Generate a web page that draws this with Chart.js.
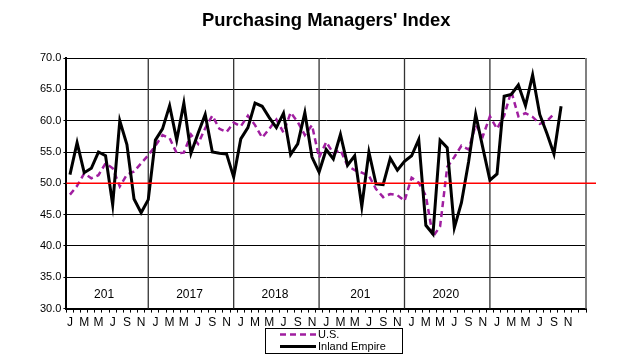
<!DOCTYPE html>
<html>
<head>
<meta charset="utf-8">
<script src="https://cdn.jsdelivr.net/npm/chart.js@4/dist/chart.umd.min.js"></script>
<style>
  html, body { margin: 0; padding: 0; background: #fff; }
  #wrap { width: 623px; height: 356px; position: relative; }
</style>
</head>
<body>
<div id="wrap"><canvas id="c" width="623" height="356"></canvas></div>
<script>
// ---- data ----
const monthLetters = ['J','F','M','A','M','J','J','A','S','O','N','D'];
const startYear = 2016;
const monthCount = 73; // Jan 2016 .. Jan 2022 (axis span)
const yearLabels = ['201', '2017', '2018', '201', '2020', ''];

const usPMI = [
  48.2, 49.6, 51.6, 50.8, 51.3, 53.2, 52.4, 49.5, 51.4, 51.9, 53.2, 54.5,
  56.0, 57.7, 57.2, 54.8, 54.9, 57.8, 56.3, 58.8, 60.8, 58.7, 58.2, 59.7,
  59.1, 60.8, 59.3, 57.3, 58.7, 60.2, 58.1, 61.3, 59.8, 57.7, 59.3, 54.1,
  56.6, 54.8, 55.3, 52.8, 52.1, 51.7, 51.2, 49.1, 47.8, 48.3, 48.1, 47.2,
  50.9, 50.1, 48.0, 41.5, 43.1, 52.6, 54.2, 56.0, 55.4, 59.3, 57.5, 60.7,
  58.7, 60.8, 64.7, 60.7, 61.2, 60.6, 59.5, 59.9, 61.1
];

const inlandEmpire = [
  51.4, 56.5, 51.7, 52.4, 55.0, 54.4, 46.6, 60.0, 56.2, 47.5, 45.3, 47.4,
  56.9, 58.7, 62.4, 56.9, 62.8, 54.8, 58.0, 61.0, 55.0, 54.8, 54.7, 51.0,
  57.1, 58.9, 62.8, 62.3, 60.5, 58.9, 61.2, 54.6, 56.3, 61.3, 54.2, 51.8,
  55.4, 53.9, 57.8, 52.9, 54.4, 46.3, 55.0, 49.9, 49.8, 54.0, 52.1, 53.5,
  54.4, 57.0, 43.3, 41.9, 56.9, 55.7, 42.9, 46.9, 53.4, 61.0, 55.7, 50.5,
  51.5, 63.9, 64.2, 65.7, 62.4, 67.3, 61.0, 58.0, 54.7, 62.3
];

const yTicks = { min: 30, max: 70, step: 5 };
const referenceLevel = 50;

// categories
const categories = [];
for (let i = 0; i < monthCount; i++) {
  const y = startYear + Math.floor(i / 12);
  categories.push(monthLetters[i % 12] + ' ' + y);
}

// ---- plugins ----
const decorations = {
  id: 'decorations',
  beforeDatasetsDraw(chart) {
    const { ctx, chartArea: a, scales: { x, y } } = chart;
    ctx.save();
    // year separator lines (through December of each year)
    ctx.strokeStyle = '#333';
    ctx.lineWidth = 1.3;
    for (let k = 1; k * 12 < monthCount - 1; k++) {
      const px = x.getPixelForValue(k * 12 - 1);
      ctx.beginPath(); ctx.moveTo(px, a.top); ctx.lineTo(px, a.bottom); ctx.stroke();
    }
    // right border
    ctx.strokeStyle = '#808080';
    ctx.lineWidth = 2;
    ctx.beginPath(); ctx.moveTo(a.right, a.top); ctx.lineTo(a.right, a.bottom); ctx.stroke();
    // year labels
    ctx.fillStyle = '#000';
    ctx.font = '12px "Liberation Sans", Arial, sans-serif';
    ctx.textAlign = 'center';
    ctx.textBaseline = 'middle';
    yearLabels.forEach((t, k) => {
      if (!t) return;
      ctx.fillText(t, x.getPixelForValue(k * 12 + 4.8), y.getPixelForValue(32.3));
    });
    ctx.restore();
  },
  afterDatasetsDraw(chart) {
    const { ctx, chartArea: a, scales: { y } } = chart;
    ctx.save();
    // red 50 line
    const py = y.getPixelForValue(referenceLevel);
    ctx.strokeStyle = '#ff0000';
    ctx.lineWidth = 1.5;
    ctx.beginPath(); ctx.moveTo(a.left, py); ctx.lineTo(a.right + 10, py); ctx.stroke();
    ctx.restore();
  },
  afterDraw(chart) {
    // legend box
    const { ctx } = chart;
    const bx = 265, by = 328, bw = 137, bh = 25;
    ctx.save();
    ctx.fillStyle = '#fff';
    ctx.fillRect(bx, by, bw, bh);
    ctx.strokeStyle = '#000';
    ctx.lineWidth = 1;
    ctx.strokeRect(bx + 0.5, by + 0.5, bw, bh);
    ctx.font = '11px "Liberation Sans", Arial, sans-serif';
    ctx.textBaseline = 'middle';
    ctx.textAlign = 'left';
    const order = [1, 0];
    order.forEach((di, r) => {
      const ds = chart.data.datasets[di];
      const ly = by + 6.5 + r * 12;
      ctx.strokeStyle = ds.borderColor;
      ctx.lineWidth = ds.borderWidth;
      ctx.setLineDash(ds.borderDash || []);
      ctx.beginPath(); ctx.moveTo(bx + 15, ly); ctx.lineTo(bx + 51, ly); ctx.stroke();
      ctx.setLineDash([]);
      ctx.fillStyle = '#000';
      ctx.fillText(ds.label, bx + 53, ly + 0.5);
    });
    ctx.restore();
  }
};

new Chart(document.getElementById('c'), {
  type: 'line',
  data: {
    labels: categories,
    datasets: [
      {
        label: 'Inland Empire',
        data: inlandEmpire,
        borderColor: '#000000',
        borderWidth: 3,
        pointRadius: 0,
        tension: 0,
        order: 0
      },
      {
        label: 'U.S.',
        data: usPMI,
        borderColor: '#a01ea0',
        borderWidth: 2.5,
        borderDash: [6, 4],
        pointRadius: 0,
        tension: 0,
        order: 1
      }
    ]
  },
  options: {
    responsive: false,
    animation: false,
    devicePixelRatio: 1,
    layout: { padding: { left: 38, right: 37, top: 0, bottom: 23 } },
    plugins: {
      legend: { display: false },
      tooltip: { enabled: false },
      title: {
        display: true,
        fullSize: false,
        text: "Purchasing Managers' Index",
        color: '#000',
        font: { family: '"Liberation Sans", Arial, sans-serif', size: 18.4, weight: 'bold' },
        padding: { top: 10, bottom: 26 }
      }
    },
    scales: {
      x: {
        type: 'category',
        offset: true,
        grid: {
          offset: true,
          drawOnChartArea: false,
          drawTicks: true,
          tickLength: 4,
          color: '#000',
          lineWidth: 1
        },
        border: { display: true, color: '#000', width: 2 },
        ticks: {
          autoSkip: false,
          maxRotation: 0,
          padding: 3,
          color: '#000',
          font: { family: '"Liberation Sans", Arial, sans-serif', size: 12 },
          callback: (v, i) => (i % 2 === 0 && i < monthCount - 1) ? monthLetters[i % 12] : ''
        }
      },
      y: {
        min: yTicks.min,
        max: yTicks.max,
        ticks: {
          stepSize: yTicks.step,
          color: '#000',
          padding: 2,
          font: { family: '"Liberation Sans", Arial, sans-serif', size: 11 },
          callback: v => Number(v).toFixed(1)
        },
        grid: { color: '#000', lineWidth: 1, tickLength: 3, drawTicks: true },
        border: { display: true, color: '#000', width: 2 }
      }
    }
  },
  plugins: [decorations]
});
</script>
</body>
</html>
